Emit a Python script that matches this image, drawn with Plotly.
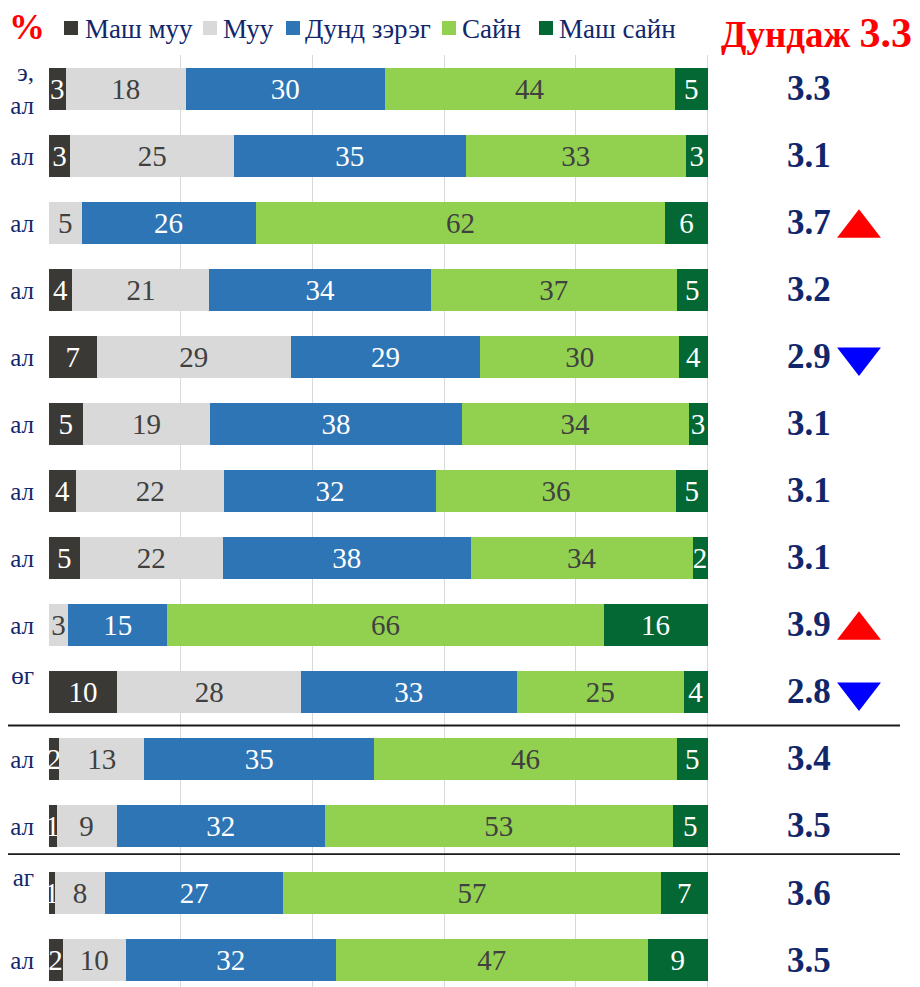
import plotly.graph_objects as go

# ---------------- data ----------------
row_labels = ["э,<br>ал", "ал", "ал", "ал", "ал", "ал", "ал", "ал", "ал",
              "өг<br>&nbsp;", "ал", "ал", "аг<br>&nbsp;", "ал"]
series_names = ["Маш муу", "Муу", "Дунд зэрэг", "Сайн", "Маш сайн"]

very_bad = [2.6, 3.3, 0.0, 3.6, 7.3, 5.2, 4.2, 4.7, 0.0, 10.4, 1.6, 1.2, 0.9, 2.1]
bad = [18.2, 24.8, 5.0, 20.8, 29.4, 19.3, 22.4, 21.7, 3.0, 27.9, 12.9, 9.1, 7.7, 9.6]
medium = [30.2, 35.2, 26.4, 33.6, 28.8, 38.2, 32.2, 37.7, 15.0, 32.7, 34.9, 31.6, 27.0, 31.9]
good = [44.0, 33.4, 62.2, 37.3, 30.2, 34.4, 36.4, 33.6, 66.2, 25.4, 45.9, 52.8, 57.3, 47.3]
very_good = [5.0, 3.3, 6.4, 4.7, 4.3, 2.9, 4.8, 2.3, 15.8, 3.6, 4.7, 5.3, 7.1, 9.1]

averages = [3.3, 3.1, 3.7, 3.2, 2.9, 3.1, 3.1, 3.1, 3.9, 2.8, 3.4, 3.5, 3.6, 3.5]
trends = ["", "", "up", "", "down", "", "", "", "up", "down", "", "", "", ""]
overall_average = 3.3
group_breaks = [9.5, 11.42]
grid_ticks = [0, 20, 40, 60, 80, 100]

# ---------------- style ----------------
FONT = "Liberation Serif, Times New Roman, serif"
NAVY = "#12276b"
colors = ["#3a3936", "#d9d9d9", "#2e75b6", "#92d050", "#036834"]
label_colors = ["white", "#404040", "white", "#404040", "white"]

OFF = 8  # page body margin
W, H = 912, 979
L, R, T, B = 40, 2, 47, 0
PW, PH = W - L - R, H - T - B
UNIT = 6.59  # px per percent
X_MAX = PW / UNIT - 0.1


def px_x(sx):  # screen x -> paper
    return (sx - OFF - L) / PW


def px_y(sy):  # screen y -> paper
    return 1 - (sy - OFF - T) / PH


def data_x(sx):  # screen x -> data x
    return (sx - OFF - L) / UNIT - 0.1


rows = list(range(len(row_labels)))
fig = go.Figure()

for name, vals, col, tcol in zip(series_names,
                                 [very_bad, bad, medium, good, very_good],
                                 colors, label_colors):
    fig.add_trace(go.Bar(
        y=rows, x=vals, orientation="h", name=name,
        marker=dict(color=col, line=dict(width=0)),
        text=[f"{round(v)}" if v > 0 else "" for v in vals],
        textposition="inside", insidetextanchor="middle",
        textangle=0, constraintext="none",
        textfont=dict(family=FONT, size=29, color=tcol),
        hoverinfo="skip", showlegend=False,
    ))

# trend triangles
up_rows = [r for r, t in zip(rows, trends) if t == "up"]
down_rows = [r for r, t in zip(rows, trends) if t == "down"]
tri_x = data_x(859)
fig.add_trace(go.Scatter(
    x=[tri_x] * len(up_rows), y=[r + 0.08 for r in up_rows], mode="markers",
    marker=dict(symbol="triangle-up", size=38, color="#ff0000", line=dict(width=0)),
    cliponaxis=False, showlegend=False, hoverinfo="skip"))
fig.add_trace(go.Scatter(
    x=[tri_x] * len(down_rows), y=down_rows, mode="markers",
    marker=dict(symbol="triangle-down", size=38, color="#0000ff", line=dict(width=0)),
    cliponaxis=False, showlegend=False, hoverinfo="skip"))

annotations = []
# averages on the right
avg_x = data_x(785)
for r, a in zip(rows, averages):
    annotations.append(dict(
        x=avg_x, y=r, xref="x", yref="y", xanchor="left", yanchor="middle",
        text=f"<b>{a:.1f}</b>", showarrow=False,
        font=dict(family=FONT, size=35, color=NAVY)))

# header: % sign and overall average
annotations.append(dict(
    x=px_x(27), y=px_y(27), xref="paper", yref="paper", xanchor="center", yanchor="middle",
    text="<b>%</b>", showarrow=False, font=dict(family=FONT, size=36, color="#ff0000")))
annotations.append(dict(
    x=px_x(914), y=px_y(OFF), xref="paper", yref="paper", xanchor="right", yanchor="top",
    text=f"<b>Дундаж <span style='font-size:42px'>{overall_average:.1f}</span></b>",
    showarrow=False, font=dict(family=FONT, size=37, color="#ff0000")))

# manual legend
legend_square_x = [64, 203, 286, 442, 539]
legend_text_x = [83, 221, 303, 460, 557]
shapes = []
for name, col, sx, tx in zip(series_names, colors, legend_square_x, legend_text_x):
    shapes.append(dict(type="rect", xref="paper", yref="paper",
                       x0=px_x(sx), x1=px_x(sx + 14), y0=px_y(35), y1=px_y(21),
                       fillcolor=col, line=dict(width=0), layer="above"))
    annotations.append(dict(
        x=px_x(tx), y=px_y(29), xref="paper", yref="paper", xanchor="left", yanchor="middle",
        text=name, showarrow=False, font=dict(family=FONT, size=27, color=NAVY)))

# group separator lines
for yb in group_breaks:
    shapes.append(dict(type="line", xref="paper", yref="y",
                       x0=px_x(0), x1=px_x(900), y0=yb, y1=yb,
                       line=dict(color="#1a1a1a", width=1.8), layer="above"))

fig.update_layout(
    width=W, height=H, barmode="stack", bargap=0.373,
    margin=dict(l=L, r=R, t=T, b=B, autoexpand=False),
    plot_bgcolor="white", paper_bgcolor="white",
    annotations=annotations, shapes=shapes, showlegend=False,
    xaxis=dict(range=[-0.1, X_MAX], tickvals=grid_ticks, showgrid=True, gridcolor="#d9d9d9",
               gridwidth=1.3, zeroline=False, showticklabels=False, showline=False,
               fixedrange=True),
    yaxis=dict(range=[13.403, -0.507], tickvals=rows, ticktext=row_labels,
               tickfont=dict(family=FONT, size=25, color=NAVY), ticks="",
               ticklabelstandoff=13, showgrid=False, zeroline=False, showline=False,
               automargin=False, fixedrange=True),
)

fig.write_html("out.html")
